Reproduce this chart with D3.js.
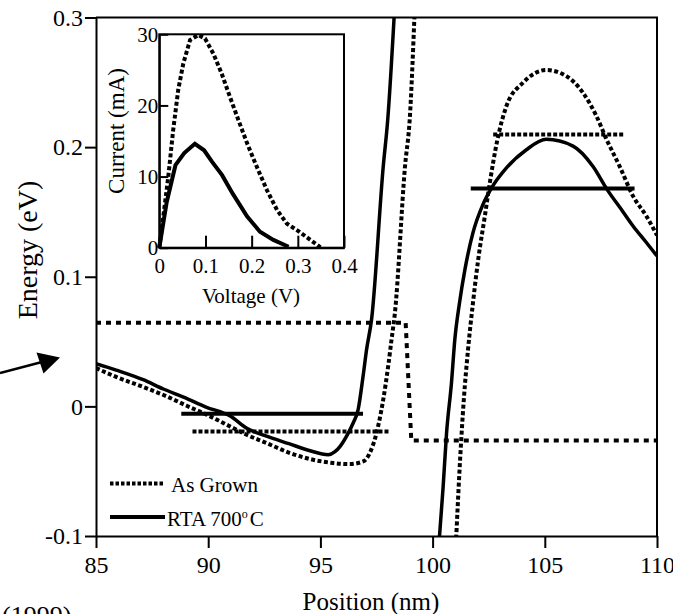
<!DOCTYPE html>
<html>
<head>
<meta charset="utf-8">
<script src="https://cdn.jsdelivr.net/npm/d3@7/dist/d3.min.js"></script>
<style>
  body { margin: 0; background: #fff; }
  svg { display: block; font-family: "Liberation Serif", "Times New Roman", serif; }
  .axis path, .axis line { stroke: #000; stroke-width: 2; }
  .axis text { fill: #000; }
</style>
</head>
<body>
<svg id="vis" width="673" height="614"></svg>
<script>
// main plot: energy (eV) vs position (nm)
const xTicks = [85, 90, 95, 100, 105, 110]
const yTicks = [-0.1, 0, 0.1, 0.2, 0.3]

// RTA 700 C band edge, two branches
const rtaLeft = [
    [85, 0.033], [85.9, 0.028], [87.1, 0.0206], [88.0, 0.0134], [88.9, 0.0072],
    [89.9, -0.0005], [91.0, -0.0077], [91.7, -0.0167], [92.6, -0.023], [93.6, -0.0288],
    [94.5, -0.034], [95.35, -0.0373], [95.65, -0.035], [95.87, -0.031], [96.24, -0.0206],
    [96.46, -0.0128], [96.68, -0.0026], [96.9, 0.023], [97.06, 0.044], [97.28, 0.067],
    [97.8, 0.185], [98.0, 0.221], [98.3, 0.305]
]
const rtaRight = [
    [100.3, -0.102], [100.47, -0.062], [100.62, -0.021], [100.84, 0.018], [100.99, 0.0515],
    [101.2, 0.08], [101.44, 0.1055], [101.8, 0.134], [102.25, 0.156], [102.63, 0.1686],
    [103.29, 0.184], [104.18, 0.198], [105.07, 0.206], [106.26, 0.2008], [107.15, 0.185],
    [107.75, 0.168], [108.49, 0.150], [108.94, 0.139], [109.5, 0.127], [110, 0.116]
]

// As grown band edge, two branches
const grownLeft = [
    [85, 0.0296], [85.9, 0.0227], [87.1, 0.015], [88.15, 0.0077], [89.04, 0.0005],
    [89.93, -0.0064], [90.82, -0.0141], [91.71, -0.0219], [92.6, -0.0283], [93.64, -0.036],
    [94.53, -0.0406], [95.57, -0.0437], [96.3, -0.0445], [96.9, -0.0425], [97.2, -0.036],
    [97.5, -0.0206], [97.8, 0.0052], [98.02, 0.0309], [98.17, 0.0515], [98.32, 0.072],
    [98.77, 0.185], [98.99, 0.224], [99.2, 0.305]
]
const grownRight = [
    [101.05, -0.102], [101.21, -0.046], [101.39, 0.005], [101.58, 0.044], [101.8, 0.08],
    [102.03, 0.113], [102.33, 0.147], [102.55, 0.1725], [102.88, 0.205], [103.29, 0.2317],
    [104.03, 0.2497], [105.07, 0.2595], [105.96, 0.2548], [106.7, 0.242], [107.3, 0.224],
    [107.75, 0.206], [108.34, 0.185], [108.94, 0.162], [109.53, 0.1467], [110, 0.132]
]

// as grown fermi level step
const grownStep = [[85, 0.0645], [98.8, 0.0645], [99.05, -0.0263], [110, -0.0263]]

// quasi-bound levels: [x start, x end, energy]
const rtaLevels = [[88.8, 96.9, -0.0056], [101.7, 109.0, 0.168]]
const grownLevels = [[89.3, 98.1, -0.0193], [102.7, 108.5, 0.2098]]

// inset: current (mA) vs voltage (V)
const ivXTicks = [0, 0.1, 0.2, 0.3, 0.4]
const ivYTicks = [0, 10, 20, 30]
const grownV = [0, 0.0087, 0.0195, 0.030, 0.041, 0.052, 0.0666, 0.0846, 0.099, 0.117, 0.135,
    0.153, 0.171, 0.190, 0.211, 0.233, 0.255, 0.276, 0.302, 0.327, 0.349]
const grownI = [0, 4.4, 10, 16.5, 22.2, 25.9, 29.2, 29.9, 29.4, 27.3, 24.5,
    21.2, 18.0, 14.7, 11.4, 8.1, 5.3, 3.4, 2.3, 1.1, 0.05]
const rtaV = [0, 0.016, 0.035, 0.054, 0.077, 0.097, 0.114, 0.136, 0.159, 0.190, 0.218, 0.247, 0.280]
const rtaI = [0, 6.4, 11.6, 13.3, 14.6, 13.7, 12.1, 10.2, 7.6, 4.4, 2.25, 1.1, 0.14]

const serif = '"Liberation Serif", "Times New Roman", serif'
const svg = d3.select("#vis")

let margin = { top: 17.5, left: 96, right: 16, bottom: 78 }
let plotWidth = 673 - margin.left - margin.right
let plotHeight = 614 - margin.top - margin.bottom

let x = d3.scaleLinear().domain([85, 110]).range([margin.left, margin.left + plotWidth])
let y = d3.scaleLinear().domain([-0.1, 0.3]).range([margin.top + plotHeight, margin.top])

let fmt = function(d) {
    if (d === 0) return "0"
    return (d < 0 ? "-" : "") + d3.format(".1f")(Math.abs(d))
}

svg.append("defs").append("clipPath").attr("id", "clip")
    .append("rect")
    .attr("x", margin.left).attr("y", margin.top)
    .attr("width", plotWidth).attr("height", plotHeight)

// axes
let xAxis = d3.axisBottom(x).tickValues(xTicks).tickSize(12).tickSizeOuter(0).tickPadding(8)
let yAxis = d3.axisLeft(y).tickValues(yTicks).tickFormat(fmt).tickSize(11).tickSizeOuter(0).tickPadding(2)

function styleTicks(g, size) {
    g.attr("font-family", serif).attr("font-size", size)
    g.selectAll("text")
        .style("font-family", serif)
        .style("font-size", size + "px")
}

svg.append("g").attr("class", "axis")
    .attr("transform", "translate(0," + (margin.top + plotHeight) + ")")
    .call(xAxis)
    .call(styleTicks, 24)

svg.append("g").attr("class", "axis")
    .attr("transform", "translate(" + margin.left + ",0)")
    .call(yAxis)
    .call(styleTicks, 24)

// top and right frame
svg.append("path")
    .attr("d", "M" + x(85) + "," + y(0.3) + "H" + x(110) + "V" + y(-0.1))
    .attr("fill", "none").attr("stroke", "#000").attr("stroke-width", 2)

let line = d3.line().x(d => x(d[0])).y(d => y(d[1])).curve(d3.curveMonotoneX)
let plot = svg.append("g").attr("clip-path", "url(#clip)")

function drawCurve(g, data, gen, dotted, w) {
    g.append("path")
        .datum(data)
        .attr("d", gen)
        .attr("fill", "none")
        .attr("stroke", "#000")
        .attr("stroke-width", w)
        .attr("stroke-dasharray", dotted ? dotted : null)
}

drawCurve(plot, rtaLeft, line, null, 3.5)
drawCurve(plot, rtaRight, line, null, 3.5)
drawCurve(plot, grownLeft, line, "4,2.5", 4)
drawCurve(plot, grownRight, line, "4,2.5", 4)

let straight = d3.line().x(d => x(d[0])).y(d => y(d[1]))
drawCurve(plot, grownStep, straight, "5,5", 4)

rtaLevels.forEach(function(l) {
    drawCurve(plot, [[l[0], l[2]], [l[1], l[2]]], straight, null, 4)
})
grownLevels.forEach(function(l) {
    drawCurve(plot, [[l[0], l[2]], [l[1], l[2]]], straight, "4,2", 4)
})

// legend
let legend = svg.append("g").style("font-size", "21px")
legend.append("line").attr("x1", 110).attr("x2", 163).attr("y1", 483.5).attr("y2", 483.5)
    .attr("stroke", "#000").attr("stroke-width", 4).attr("stroke-dasharray", "3.5,2")
legend.append("text").attr("x", 171).attr("y", 491.5).text("As Grown")
legend.append("line").attr("x1", 110).attr("x2", 165).attr("y1", 517).attr("y2", 517)
    .attr("stroke", "#000").attr("stroke-width", 4)
let rtaText = legend.append("text").attr("x", 167).attr("y", 526)
rtaText.append("tspan").text("RTA 700")
rtaText.append("tspan").attr("dy", -8).style("font-size", "12px").text("o")
rtaText.append("tspan").attr("dy", 8).attr("dx", 2).text("C")

// axis titles
svg.append("text")
    .attr("transform", "translate(37,250) rotate(-90)")
    .attr("text-anchor", "middle")
    .style("font-size", "28px")
    .text("Energy (eV)")

svg.append("text")
    .attr("x", 371).attr("y", 610)
    .attr("text-anchor", "middle")
    .style("font-size", "25px")
    .text("Position (nm)")

svg.append("text")
    .attr("x", 2).attr("y", 624)
    .style("font-size", "26px")
    .text("(1999)")

// arrow
svg.append("line").attr("x1", 0).attr("y1", 373).attr("x2", 42).attr("y2", 362)
    .attr("stroke", "#000").attr("stroke-width", 2.5)
svg.append("path").attr("d", "M60,357.5L36.5,352.5L43.5,373.5Z").attr("fill", "#000")

// inset
let ix = d3.scaleLinear().domain([0, 0.4]).range([159.3, 344])
let iy = d3.scaleLinear().domain([0, 30]).range([247.7, 34.3])

let inset = svg.append("g")
inset.append("rect")
    .attr("x", ix(0)).attr("y", iy(30))
    .attr("width", ix(0.4) - ix(0)).attr("height", iy(0) - iy(30))
    .attr("fill", "#fff").attr("stroke", "#000").attr("stroke-width", 2)

let ixAxis = d3.axisBottom(ix).tickValues(ivXTicks).tickFormat(d => d === 0 ? "0" : d3.format(".1f")(d))
    .tickSize(-12).tickSizeOuter(0).tickPadding(10)
let iyAxis = d3.axisLeft(iy).tickValues(ivYTicks).tickSize(-9).tickSizeOuter(0).tickPadding(1)

inset.append("g").attr("class", "axis")
    .attr("transform", "translate(0," + iy(0) + ")")
    .call(ixAxis)
    .call(styleTicks, 21)
inset.append("g").attr("class", "axis")
    .attr("transform", "translate(" + ix(0) + ",0)")
    .call(iyAxis)
    .call(styleTicks, 21)

let ivLine = d3.line().x(d => ix(d[0])).y(d => iy(d[1]))
drawCurve(inset, d3.zip(grownV, grownI), ivLine, "4,2.5", 4)
drawCurve(inset, d3.zip(rtaV, rtaI), ivLine, null, 4)

inset.append("text")
    .attr("x", 251).attr("y", 303)
    .attr("text-anchor", "middle")
    .style("font-size", "21px")
    .text("Voltage (V)")

inset.append("text")
    .attr("transform", "translate(124,131) rotate(-90)")
    .attr("text-anchor", "middle")
    .style("font-size", "23px")
    .text("Current (mA)")
</script>
</body>
</html>
